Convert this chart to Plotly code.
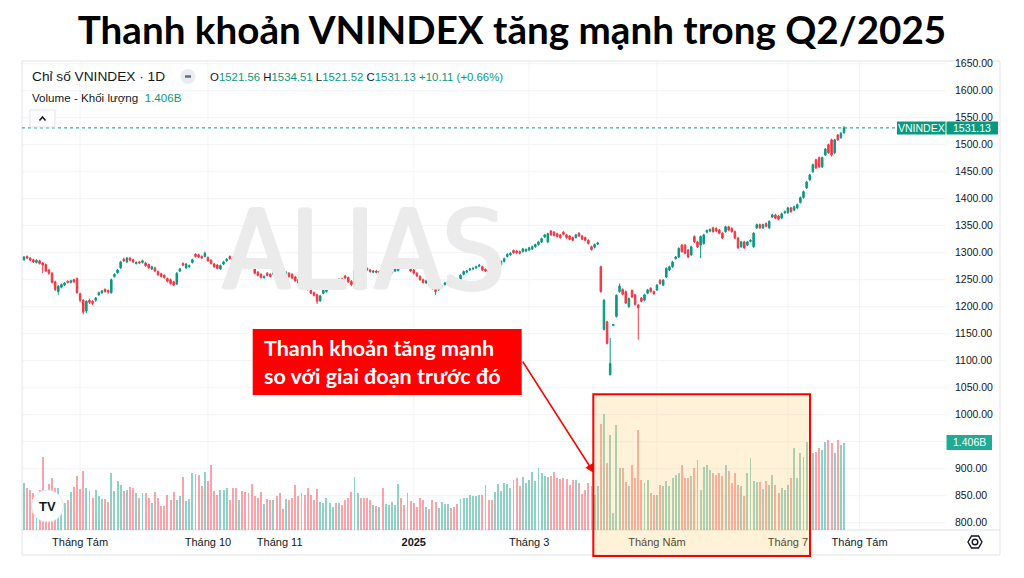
import math
import pandas as pd
import plotly.graph_objects as go

# ---------------- data ----------------
holidays = ["2024-09-02", "2024-09-03", "2025-01-01", "2025-01-27", "2025-01-28",
            "2025-01-29", "2025-01-30", "2025-01-31", "2025-04-07", "2025-04-30", "2025-05-01"]
calendar = pd.bdate_range("2024-07-08", "2025-08-29", freq="C", holidays=holidays)

tick_dates = ["2024-08-01", "2024-10-01", "2024-11-01", "2025-01-02",
              "2025-03-03", "2025-05-02", "2025-07-01", "2025-08-01"]
tick_labels = ["Tháng Tám", "Tháng 10", "Tháng 11", "<b>2025</b>",
               "Tháng 3", "Tháng Năm", "Tháng 7", "Tháng Tám"]
grid_dates = ["2024-08-01", "2024-10-01", "2025-01-02", "2025-03-03",
              "2025-05-02", "2025-07-01", "2025-08-01"]

price_ticks = [800, 850, 900, 950, 1000, 1050, 1100, 1150, 1200, 1250, 1300,
               1350, 1400, 1450, 1500, 1550, 1600, 1650]

opens = [
    1287, 1293, 1290, 1287, 1282, 1285, 1281, 1278, 1268, 1262,
    1246, 1228, 1236, 1240, 1247, 1245, 1250, 1252, 1224, 1212,
    1192, 1212, 1210, 1212, 1222, 1226, 1232, 1230, 1226, 1256,
    1263, 1272, 1288, 1283, 1290, 1287, 1280, 1283, 1282, 1281,
    1278, 1270, 1272, 1265, 1261, 1258, 1252, 1250, 1246, 1242,
    1266, 1280, 1272, 1274, 1282, 1297, 1296, 1293, 1293, 1291,
    1286, 1279, 1277, 1270, 1279, 1285, 1293, 1289, 1286, 1278,
    1288, 1285, 1280, 1276, 1272, 1264, 1260, 1254, 1262, 1260,
    1260, 1260, 1255, 1252, 1260, 1262, 1260, 1255, 1250, 1245,
    1243, 1238, 1230, 1226, 1222, 1211, 1225, 1228, 1237, 1240,
    1246, 1247, 1252, 1257, 1254, 1247, 1242, 1268, 1274, 1273,
    1271, 1268, 1264, 1266, 1263, 1264, 1257, 1259, 1263, 1266,
    1267, 1278, 1276, 1274, 1271, 1268, 1262, 1256, 1250, 1244,
    1246, 1240, 1235, 1232, 1236, 1241, 1244, 1252, 1251, 1246,
    1246, 1260, 1264, 1268, 1270, 1272, 1275, 1274, 1269, 1268,
    1269, 1270, 1275, 1278, 1284, 1293, 1296, 1304, 1303, 1302,
    1302, 1303, 1305, 1307, 1311, 1315, 1320, 1329, 1320, 1340,
    1338, 1335, 1333, 1338, 1333, 1331, 1328, 1328, 1336, 1331,
    1328, 1323, 1311, 1310, 1316, 1274, 1158, 1172, 1074, 1165,
    1182, 1228, 1232, 1228, 1200, 1230, 1222, 1203, 1216, 1212,
    1225, 1234, 1228, 1231, 1249, 1240, 1255, 1268, 1274, 1289,
    1292, 1314, 1314, 1305, 1296, 1330, 1320, 1314, 1317, 1338,
    1340, 1346, 1345, 1342, 1336, 1339, 1348, 1345, 1339, 1327,
    1311, 1320, 1314, 1321, 1311, 1346, 1352, 1346, 1354, 1346,
    1366, 1370, 1368, 1364, 1374, 1374, 1383, 1379, 1383, 1393,
    1402, 1420, 1435, 1450, 1472, 1476, 1459, 1481, 1500, 1509,
    1485, 1518, 1513, 1521.56]

highs = [
    1294, 1295, 1292, 1289, 1288, 1287, 1283, 1280, 1270, 1264,
    1248, 1240, 1243, 1246, 1249, 1250, 1252, 1254, 1226, 1214,
    1212, 1215, 1212, 1218, 1228, 1231, 1234, 1232, 1252, 1262,
    1270, 1285, 1291, 1292, 1292, 1289, 1284, 1285, 1287, 1283,
    1280, 1276, 1274, 1267, 1263, 1260, 1254, 1252, 1248, 1264,
    1272, 1282, 1281, 1278, 1289, 1299, 1298, 1295, 1302, 1293,
    1288, 1281, 1279, 1278, 1285, 1290, 1295, 1291, 1288, 1285,
    1290, 1287, 1282, 1278, 1274, 1266, 1262, 1258, 1264, 1262,
    1265, 1262, 1257, 1254, 1266, 1264, 1262, 1257, 1252, 1247,
    1245, 1240, 1232, 1228, 1224, 1222, 1232, 1236, 1242, 1245,
    1248, 1253, 1254, 1259, 1256, 1249, 1269, 1274, 1276, 1275,
    1273, 1270, 1268, 1268, 1267, 1266, 1262, 1263, 1268, 1272,
    1282, 1280, 1278, 1276, 1273, 1270, 1264, 1258, 1252, 1250,
    1248, 1242, 1237, 1234, 1240, 1246, 1249, 1254, 1253, 1248,
    1260, 1267, 1268, 1272, 1273, 1276, 1279, 1276, 1271, 1270,
    1271, 1275, 1279, 1286, 1291, 1299, 1301, 1306, 1305, 1304,
    1309, 1308, 1311, 1313, 1317, 1322, 1328, 1335, 1337, 1342,
    1340, 1337, 1335, 1340, 1335, 1333, 1330, 1335, 1338, 1333,
    1330, 1325, 1313, 1317, 1320, 1276, 1214, 1174, 1142, 1168,
    1223, 1243, 1234, 1230, 1217, 1232, 1224, 1205, 1218, 1224,
    1233, 1236, 1230, 1242, 1251, 1251, 1273, 1276, 1285, 1294,
    1310, 1316, 1316, 1307, 1313, 1332, 1322, 1332, 1335, 1343,
    1345, 1348, 1347, 1344, 1338, 1350, 1350, 1347, 1341, 1329,
    1322, 1322, 1322, 1325, 1338, 1354, 1354, 1354, 1356, 1360,
    1372, 1372, 1370, 1374, 1378, 1385, 1385, 1387, 1391, 1404,
    1415, 1433, 1446, 1465, 1474, 1478, 1478, 1494, 1502, 1511,
    1511, 1520, 1524, 1534.51]

lows = [
    1285, 1288, 1284, 1281, 1280, 1278, 1262, 1264, 1259, 1243,
    1229, 1222, 1234, 1238, 1243, 1243, 1244, 1224, 1208, 1186,
    1188, 1205, 1203, 1209, 1220, 1224, 1226, 1224, 1224, 1254,
    1261, 1270, 1283, 1281, 1284, 1281, 1278, 1279, 1280, 1274,
    1270, 1268, 1264, 1257, 1254, 1252, 1245, 1241, 1238, 1240,
    1264, 1275, 1270, 1272, 1280, 1291, 1290, 1288, 1291, 1283,
    1278, 1272, 1269, 1268, 1277, 1283, 1287, 1282, 1279, 1276,
    1283, 1277, 1273, 1270, 1260, 1256, 1252, 1252, 1256, 1254,
    1258, 1253, 1246, 1244, 1258, 1254, 1251, 1246, 1242, 1238,
    1233, 1230, 1223, 1219, 1205, 1209, 1223, 1226, 1235, 1238,
    1242, 1245, 1247, 1251, 1244, 1238, 1240, 1266, 1269, 1268,
    1266, 1263, 1262, 1262, 1261, 1256, 1255, 1257, 1261, 1264,
    1265, 1273, 1271, 1270, 1264, 1260, 1255, 1248, 1243, 1242,
    1238, 1231, 1222, 1229, 1234, 1239, 1242, 1246, 1245, 1240,
    1244, 1258, 1262, 1266, 1268, 1270, 1273, 1266, 1264, 1263,
    1265, 1268, 1273, 1276, 1282, 1291, 1294, 1298, 1298, 1297,
    1300, 1301, 1303, 1305, 1309, 1313, 1318, 1327, 1318, 1331,
    1330, 1328, 1326, 1332, 1326, 1323, 1321, 1326, 1329, 1323,
    1321, 1315, 1304, 1308, 1314, 1226, 1156, 1130, 1073, 1164,
    1180, 1226, 1221, 1205, 1198, 1216, 1202, 1139, 1208, 1210,
    1223, 1226, 1222, 1229, 1241, 1238, 1253, 1266, 1272, 1287,
    1290, 1300, 1297, 1290, 1294, 1318, 1309, 1290, 1315, 1336,
    1338, 1337, 1338, 1334, 1325, 1337, 1340, 1337, 1325, 1307,
    1309, 1307, 1312, 1319, 1309, 1344, 1344, 1344, 1347, 1344,
    1364, 1362, 1360, 1362, 1372, 1372, 1374, 1377, 1381, 1391,
    1400, 1418, 1433, 1448, 1455, 1457, 1457, 1479, 1483, 1478,
    1483, 1507, 1511, 1521.52]

closes = [
    1292, 1290, 1286, 1283, 1286, 1280, 1277, 1266, 1262, 1245,
    1232, 1238, 1241, 1244, 1245, 1248, 1246, 1226, 1212, 1190,
    1210, 1208, 1206, 1216, 1226, 1229, 1228, 1227, 1250, 1260,
    1268, 1283, 1285, 1290, 1286, 1283, 1282, 1281, 1285, 1276,
    1272, 1274, 1266, 1259, 1256, 1254, 1247, 1243, 1240, 1262,
    1270, 1277, 1279, 1276, 1287, 1293, 1292, 1290, 1299, 1285,
    1280, 1274, 1271, 1276, 1283, 1288, 1289, 1284, 1281, 1283,
    1285, 1279, 1275, 1272, 1262, 1258, 1254, 1256, 1258, 1256,
    1263, 1255, 1248, 1246, 1264, 1256, 1253, 1248, 1244, 1240,
    1235, 1232, 1225, 1221, 1210, 1220, 1230, 1234, 1240, 1243,
    1244, 1251, 1249, 1253, 1246, 1241, 1267, 1272, 1271, 1270,
    1268, 1265, 1266, 1264, 1265, 1258, 1260, 1261, 1266, 1270,
    1280, 1275, 1273, 1272, 1266, 1262, 1257, 1250, 1245, 1248,
    1240, 1233, 1228, 1235, 1238, 1244, 1247, 1248, 1247, 1242,
    1258, 1265, 1266, 1270, 1271, 1274, 1277, 1268, 1266, 1265,
    1267, 1273, 1277, 1284, 1289, 1297, 1299, 1300, 1300, 1299,
    1307, 1306, 1309, 1311, 1315, 1320, 1326, 1333, 1335, 1333,
    1332, 1330, 1328, 1334, 1328, 1325, 1323, 1333, 1331, 1325,
    1323, 1317, 1306, 1315, 1318, 1228, 1212, 1132, 1095, 1167,
    1221, 1238, 1223, 1207, 1215, 1218, 1204, 1198, 1210, 1222,
    1231, 1228, 1224, 1240, 1243, 1249, 1271, 1274, 1283, 1292,
    1308, 1302, 1299, 1292, 1311, 1320, 1311, 1330, 1333, 1341,
    1343, 1339, 1340, 1336, 1327, 1348, 1342, 1339, 1327, 1309,
    1320, 1309, 1320, 1323, 1336, 1352, 1346, 1352, 1349, 1358,
    1370, 1364, 1362, 1372, 1376, 1383, 1376, 1385, 1389, 1402,
    1413, 1431, 1444, 1463, 1457, 1459, 1476, 1492, 1485, 1481,
    1509, 1509, 1521.02, 1531.13]

# volume in billions of shares
volumes = [
    0.76, 0.68, 0.64, 0.59, 0.56, 0.64, 1.18, 0.61, 0.74, 0.84,
    0.67, 0.67, 0.43, 0.43, 0.48, 0.61, 0.69, 0.86, 0.66, 0.95,
    0.67, 0.62, 0.52, 0.64, 0.55, 0.50, 0.50, 0.45, 0.91, 0.62,
    0.78, 0.73, 0.62, 0.65, 0.69, 0.67, 0.60, 0.52, 0.60, 0.60,
    0.52, 0.44, 0.61, 0.52, 0.39, 0.39, 0.56, 0.48, 0.61, 0.48,
    0.55, 0.85, 0.47, 0.50, 0.91, 0.90, 0.89, 0.70, 0.93, 0.78,
    1.04, 0.62, 0.56, 0.65, 0.65, 0.67, 0.49, 0.68, 0.68, 0.49,
    0.63, 0.61, 0.59, 0.74, 0.54, 0.52, 0.61, 0.41, 0.50, 0.48,
    0.48, 0.54, 0.60, 0.34, 0.50, 0.48, 0.51, 0.72, 0.54, 0.60,
    0.56, 0.67, 0.56, 0.48, 0.66, 0.45, 0.44, 0.51, 0.43, 0.37,
    0.44, 0.44, 0.40, 0.48, 0.51, 0.61, 0.85, 0.59, 0.51, 0.51,
    0.51, 0.48, 0.40, 0.39, 0.37, 0.67, 0.41, 0.40, 0.45, 0.40,
    0.74, 0.52, 0.40, 0.60, 0.47, 0.43, 0.37, 0.52, 0.48, 0.37,
    0.34, 0.48, 0.45, 0.36, 0.45, 0.41, 0.41, 0.35, 0.37, 0.41,
    0.50, 0.52, 0.52, 0.56, 0.54, 0.54, 0.56, 0.56, 0.72, 0.48,
    0.48, 0.61, 0.74, 0.63, 0.75, 0.74, 0.68, 0.81, 0.84, 0.70,
    0.85, 0.76, 0.80, 0.93, 0.79, 0.99, 0.91, 0.86, 0.85, 0.86,
    0.94, 0.84, 0.82, 0.84, 0.82, 0.73, 0.80, 0.81, 0.75, 0.58,
    0.64, 0.76, 0.70, 0.56, 0.71, 1.70, 1.86, 1.07, 1.52, 0.28,
    1.69, 0.99, 1.00, 0.77, 0.70, 1.04, 0.83, 1.61, 0.80, 0.75,
    0.80, 0.59, 0.57, 0.56, 0.72, 0.70, 0.78, 0.70, 0.84, 0.88,
    0.92, 1.05, 0.84, 0.84, 0.86, 1.00, 1.12, 0.64, 1.01, 1.05,
    0.96, 0.91, 0.89, 0.92, 0.86, 1.04, 0.95, 0.76, 0.91, 0.72,
    0.71, 0.54, 0.92, 1.16, 0.78, 0.77, 0.77, 0.66, 0.78, 0.73,
    0.88, 0.72, 0.60, 0.68, 0.64, 0.73, 0.84, 1.31, 0.84, 1.24,
    1.17, 1.42, 1.08, 1.24, 1.26, 1.32, 1.29, 1.41, 1.45, 1.39,
    1.23, 1.44, 1.37, 1.406]

# ---------------- layout constants ----------------
W, H = 1024, 578
L_PX, R_PX, T_PX, B_PX = 22, 946, 61, 530
PW, PH = R_PX - L_PX, B_PX - T_PX
PRICE_RANGE = [786.5, 1655.0]
VOL_RANGE = [0, 7.536]
X_RANGE = [-0.64, 295.7]

UP, DOWN = "#089981", "#F23645"
UP_VOL, DOWN_VOL = "rgba(8,153,129,0.45)", "rgba(242,54,69,0.45)"
TXT = "#131722"
GRID = "#f0f3fa"
FONT = "Liberation Sans, Arial, sans-serif"
WM = "#ebebeb"


def P(px):
    return (px - L_PX) / PW


def Q(py):
    return (B_PX - py) / PH


def price_paper(v):
    return (v - PRICE_RANGE[0]) / (PRICE_RANGE[1] - PRICE_RANGE[0])


def vol_paper(v):
    return (v - VOL_RANGE[0]) / (VOL_RANGE[1] - VOL_RANGE[0])


n = len(closes)
xs = list(range(n))
tick_pos = [int(calendar.get_loc(pd.Timestamp(d))) for d in tick_dates]
grid_pos = [int(calendar.get_loc(pd.Timestamp(d))) for d in grid_dates]
vol_colors = [UP_VOL if c >= o else DOWN_VOL for o, c in zip(opens, closes)]

fig = go.Figure()

# watermark (drawn first so candles sit above it)
fig.add_trace(go.Scatter(
    x=[109], y=[1284], mode="text", text=["ALIAS"], yaxis="y2",
    textfont=dict(size=110, color=WM,
                  family="Liberation Sans Narrow, DejaVu Sans Condensed, Roboto, sans-serif",
                  shadow=f"2px 0 0 {WM}, -2px 0 0 {WM}, 0 1px 0 {WM}, 0 -1px 0 {WM}"),
    hoverinfo="skip", showlegend=False))

fig.add_trace(go.Bar(
    x=xs, y=volumes, marker=dict(color=vol_colors, line=dict(width=0)),
    width=0.62, yaxis="y", hoverinfo="skip", showlegend=False))

fig.add_trace(go.Candlestick(
    x=xs, open=opens, high=highs, low=lows, close=closes, yaxis="y2",
    increasing=dict(line=dict(color=UP, width=1), fillcolor=UP),
    decreasing=dict(line=dict(color=DOWN, width=1), fillcolor=DOWN),
    whiskerwidth=0, hoverinfo="skip", showlegend=False))

shapes = []
# grid lines
for v in price_ticks:
    shapes.append(dict(type="line", xref="paper", yref="y2", x0=0, x1=1, y0=v, y1=v,
                       line=dict(color=GRID, width=1), layer="below"))
for g in grid_pos:
    shapes.append(dict(type="line", xref="x", yref="paper", x0=g, x1=g, y0=0, y1=1,
                       line=dict(color=GRID, width=1), layer="below"))
# panel frame
shapes.append(dict(type="rect", xref="paper", yref="paper", x0=P(22), x1=P(1000),
                   y0=Q(555), y1=Q(61), line=dict(color="#e0e3eb", width=1), layer="below"))
shapes.append(dict(type="line", xref="paper", yref="paper", x0=P(22), x1=P(1000),
                   y0=0, y1=0, line=dict(color="#e0e3eb", width=1), layer="below"))
# last price dotted line
last_close = closes[-1]
shapes.append(dict(type="line", xref="paper", yref="paper", x0=0, x1=1,
                   y0=price_paper(last_close), y1=price_paper(last_close),
                   line=dict(color=UP, width=1, dash="dot"), layer="below"))
# price labels on the axis
pl_y = price_paper(last_close)
half = 6.5 / PH
shapes.append(dict(type="rect", xref="paper", yref="paper", x0=P(897), x1=P(945.5),
                   y0=pl_y - half, y1=pl_y + half, fillcolor=UP, line=dict(width=0)))
shapes.append(dict(type="rect", xref="paper", yref="paper", x0=P(946.5), x1=P(998),
                   y0=pl_y - half, y1=pl_y + half, fillcolor=UP, line=dict(width=0)))
vl_y = vol_paper(volumes[-1])
shapes.append(dict(type="rect", xref="paper", yref="paper", x0=P(946.5), x1=P(992),
                   y0=vl_y - 7.5 / PH, y1=vl_y + 7.5 / PH, fillcolor="#22ab94", line=dict(width=0)))
# legend icon (minus in circle) and collapse button
shapes.append(dict(type="circle", xref="paper", yref="paper", x0=P(180.5), x1=P(195.5),
                   y0=Q(84), y1=Q(69), fillcolor="#e9ecf2", line=dict(width=0)))
shapes.append(dict(type="line", xref="paper", yref="paper", x0=P(185), x1=P(191),
                   y0=Q(76.5), y1=Q(76.5), line=dict(color="#6a6d78", width=2.5)))
shapes.append(dict(type="rect", xref="paper", yref="paper", x0=P(30), x1=P(55),
                   y0=Q(127), y1=Q(110), fillcolor="white", line=dict(color="#e0e3eb", width=1)))
shapes.append(dict(type="path", xref="paper", yref="paper",
                   path=f"M {P(39.5)} {Q(120.5)} L {P(42.5)} {Q(117)} L {P(45.5)} {Q(120.5)}",
                   line=dict(color=TXT, width=1.5)))
# TradingView logo bubble
shapes.append(dict(type="circle", xref="paper", yref="paper", x0=P(31.5), x1=P(63.5),
                   y0=Q(522), y1=Q(490), fillcolor="white", line=dict(color="#e6e8ee", width=1)))
# settings gear at bottom right
cx, cy, r = 975, 542, 7
hexpts = [(cx + r * math.cos(math.radians(a)), cy + r * math.sin(math.radians(a)))
          for a in range(0, 360, 60)]
hexpath = "M " + " L ".join(f"{P(x)} {Q(y)}" for x, y in hexpts) + " Z"
shapes.append(dict(type="path", xref="paper", yref="paper", path=hexpath,
                   line=dict(color=TXT, width=1.4)))
shapes.append(dict(type="circle", xref="paper", yref="paper", x0=P(cx - 2.8), x1=P(cx + 2.8),
                   y0=Q(cy + 2.8), y1=Q(cy - 2.8), line=dict(color=TXT, width=1.4)))
# highlight box over Q2 liquidity
shapes.append(dict(type="rect", xref="paper", yref="paper", x0=P(593.3), x1=P(810),
                   y0=Q(556), y1=Q(394.3), fillcolor="rgba(255,204,102,0.25)",
                   line=dict(color="#FF0000", width=2), layer="above"))
# red callout box
shapes.append(dict(type="rect", xref="paper", yref="paper", x0=P(252.7), x1=P(521.7),
                   y0=Q(395), y1=Q(329), fillcolor="#FF0000", line=dict(width=0), layer="above"))

teal = f"color:{UP}"
chg = closes[-1] - closes[-2]
pct = chg / closes[-2] * 100
ohlc_text = (f"O<span style='{teal}'>{opens[-1]:.2f}</span> "
             f"H<span style='{teal}'>{highs[-1]:.2f}</span> "
             f"L<span style='{teal}'>{lows[-1]:.2f}</span> "
             f"C<span style='{teal}'>{closes[-1]:.2f}</span> "
             f"<span style='{teal}'>{chg:+.2f} ({pct:+.2f}%)</span>")

annotations = [
    dict(x=P(30), y=Q(76.5), xref="paper", yref="paper", xanchor="left", yanchor="middle",
         text="Chỉ số VNINDEX · 1D", showarrow=False, font=dict(size=13.7, color=TXT, family=FONT)),
    dict(x=P(208), y=Q(76.5), xref="paper", yref="paper", xanchor="left", yanchor="middle",
         text=ohlc_text, showarrow=False, font=dict(size=11.4, color=TXT, family=FONT)),
    dict(x=P(30), y=Q(97.5), xref="paper", yref="paper", xanchor="left", yanchor="middle",
         text=f"Volume - Khối lượng  <span style='{teal}'>{volumes[-1]:.3f}B</span>",
         showarrow=False, font=dict(size=11.6, color=TXT, family=FONT)),
    dict(x=P(921), y=pl_y, xref="paper", yref="paper", xanchor="center", yanchor="middle",
         text="VNINDEX", showarrow=False, font=dict(size=10.5, color="white", family=FONT)),
    dict(x=P(972), y=pl_y, xref="paper", yref="paper", xanchor="center", yanchor="middle",
         text=f"{last_close:.2f}", showarrow=False, font=dict(size=10.5, color="white", family=FONT)),
    dict(x=P(969), y=vl_y, xref="paper", yref="paper", xanchor="center", yanchor="middle",
         text=f"{volumes[-1]:.3f}B", showarrow=False, font=dict(size=10.5, color="white", family=FONT)),
    dict(x=P(47.5), y=Q(506), xref="paper", yref="paper", xanchor="center", yanchor="middle",
         text="<b>TV</b>", showarrow=False, font=dict(size=13, color="#131722", family=FONT)),
    dict(x=P(262), y=Q(362), xref="paper", yref="paper", xanchor="left", yanchor="middle",
         align="left", text="<b>Thanh khoản tăng mạnh<br>so với giai đoạn trước đó</b>",
         showarrow=False, font=dict(size=21.5, color="white", family="Lato, sans-serif")),
    dict(x=P(594), y=Q(473), xref="paper", yref="paper", text="", showarrow=True,
         ax=521.7 - 594, ay=360 - 473, axref="pixel", ayref="pixel",
         arrowhead=2, arrowsize=1.2, arrowwidth=1.5, arrowcolor="#FF0000"),
]

fig.update_layout(
    width=W, height=H,
    margin=dict(l=L_PX, r=W - R_PX, t=T_PX, b=H - B_PX),
    paper_bgcolor="white", plot_bgcolor="white",
    showlegend=False, bargap=0,
    title=dict(text="<b>Thanh khoản VNINDEX tăng mạnh trong Q2/2025</b>",
               x=0.5, xref="container", xanchor="center",
               y=1 - 30 / H, yref="container", yanchor="middle",
               font=dict(family="Lato, sans-serif", size=38.6, color="black")),
    xaxis=dict(range=X_RANGE, tickmode="array", tickvals=tick_pos, ticktext=tick_labels,
               showgrid=False, zeroline=False, showline=False, ticks="",
               tickfont=dict(size=11, color=TXT, family=FONT), ticklabelstandoff=4,
               rangeslider=dict(visible=False), fixedrange=True),
    yaxis=dict(range=VOL_RANGE, visible=False, showgrid=False, zeroline=False, fixedrange=True),
    yaxis2=dict(range=PRICE_RANGE, overlaying="y", side="right", tickmode="array",
                tickvals=price_ticks, ticktext=[f"{v:.2f}" for v in price_ticks],
                showgrid=False, zeroline=False, showline=False, ticks="",
                tickfont=dict(size=10.5, color=TXT, family=FONT), ticklabelstandoff=8,
                fixedrange=True),
    shapes=shapes,
    annotations=annotations,
)

fig.write_html("out.html", config={"displayModeBar": False},
               post_script="document.body.style.margin='0';document.body.style.overflow='hidden';")
